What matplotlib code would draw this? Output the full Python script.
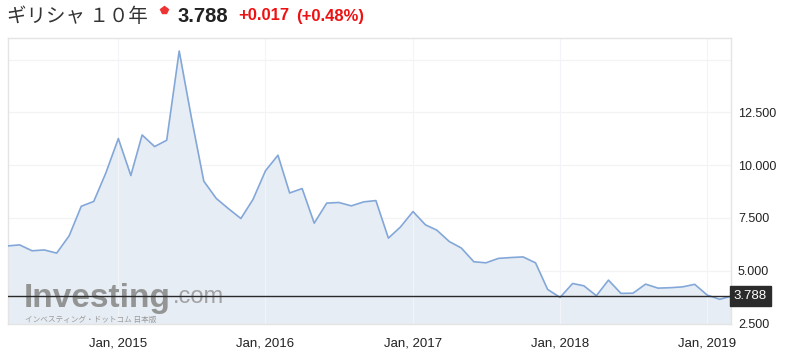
import matplotlib
matplotlib.use("Agg")
import matplotlib.pyplot as plt
import pandas as pd
from matplotlib.lines import Line2D

# ---- data ----
start_month = "2014-04-01"
yields = [6.17, 6.22, 5.94, 5.98, 5.83, 6.65, 8.05, 8.28, 9.63, 11.26,
          9.51, 11.43, 10.88, 11.18, 15.41, 12.28, 9.24, 8.42, 7.94, 7.47,
          8.37, 9.73, 10.47, 8.68, 8.89, 7.25, 8.20, 8.23, 8.07, 8.26,
          8.32, 6.54, 7.07, 7.80, 7.17, 6.92, 6.38, 6.07, 5.42, 5.37,
          5.58, 5.62, 5.65, 5.37, 4.11, 3.73, 4.39, 4.28, 3.81, 4.55,
          3.92, 3.93, 4.36, 4.17, 4.19, 4.23, 4.35, 3.84, 3.64, 3.788]
xtick_dates = ["2015-01-01", "2016-01-01", "2017-01-01", "2018-01-01", "2019-01-01"]
xtick_labels = ["Jan, 2015", "Jan, 2016", "Jan, 2017", "Jan, 2018", "Jan, 2019"]
ytick_values = [2.5, 5.0, 7.5, 10.0, 12.5]
ytick_labels = ["2.500", "5.000", "7.500", "10.000", "12.500"]
ygrid_values = [5.0, 7.5, 10.0, 12.5, 15.0]
last_value = 3.788
title_name = "ギリシャ １０年"
title_price = "3.788"
title_change = "+0.017"
title_pct = "(+0.48%)"

dates = pd.date_range(start_month, periods=len(yields), freq="MS")

W, H = 786, 355
fig = plt.figure(figsize=(W / 100, H / 100), dpi=100)
ax = fig.add_axes([7.5 / W, 1 - 324 / H, (731 - 7.5) / W, (324 - 37.5) / H])

line_color = "#82a7d8"
fill_color = "#e7edf4"

ax.fill_between(dates, yields, 0, color=fill_color, zorder=1, linewidth=0)
ax.plot(dates, yields, color=line_color, lw=1.2, zorder=3)

ax.set_xlim(dates[0], dates[-1])
ax.set_ylim(2.47, 16.05)

# grid
for v in ygrid_values:
    ax.axhline(v, color="#f3f3f3", lw=0.9, zorder=0.5)
for d in xtick_dates:
    ax.axvline(pd.Timestamp(d), color="#f2f4f7", lw=0.8, zorder=2)

# current value line
ax.axhline(last_value, color="#2a2a2a", lw=1.0, zorder=4)

for s in ax.spines.values():
    s.set_color("#e4e4e4")
    s.set_linewidth(1.0)

ax.set_xticks([pd.Timestamp(d) for d in xtick_dates])
ax.set_xticklabels(xtick_labels, fontsize=9.5, color="#222222", family="Liberation Sans")
ax.tick_params(axis="x", length=0, pad=10)
ax.yaxis.tick_right()
ax.set_yticks(ytick_values)
ax.set_yticklabels(ytick_labels, fontsize=9, color="#222222", family="Liberation Sans")
ax.tick_params(axis="y", length=0, pad=5)

# value box on right
ax.annotate(f"{last_value:.3f}", xy=(1.0, last_value), xycoords=("axes fraction", "data"),
            xytext=(2, 0), textcoords="offset points", ha="left", va="center",
            fontsize=9.5, color="white", family="Liberation Sans",
            bbox=dict(boxstyle="square,pad=0.3", fc="#2b2b2b", ec="#2b2b2b"),
            zorder=6, annotation_clip=False)

# watermark
wm = ax.text(0.023, 0.06, "Investing", transform=ax.transAxes, fontsize=24,
             fontweight="bold", color="#8a8a8a", family="Liberation Sans",
             ha="left", va="baseline", zorder=2.5, alpha=0.9)
ax.annotate(".com", xy=(1.0, 0.0), xycoords=wm, xytext=(1, 4.5),
            textcoords="offset points", fontsize=17, color="#9a9a9a",
            family="Liberation Sans", ha="left", va="bottom", zorder=2.5, alpha=0.9)
ax.text(0.024, 0.006, "インベスティング・ドットコム 日本版", transform=ax.transAxes,
        fontsize=5.5, color="#9a9a9a", family=["Noto Sans CJK JP", "DejaVu Sans"],
        ha="left", va="baseline", zorder=2.5)

# title
fig.text(7 / W, 1 - 17 / H, title_name, fontsize=14, color="#333333",
         family=["Noto Sans CJK JP", "DejaVu Sans"], ha="left", va="center")
fig.add_artist(Line2D([163.5 / W], [1 - 9.5 / H], marker="p", markersize=6,
                      color="#ee3333", transform=fig.transFigure))
fig.text(177 / W, 1 - 16 / H, title_price, fontsize=14.5, fontweight="bold",
         color="#222222", family="Liberation Sans", ha="left", va="center")
fig.text(238 / W, 1 - 16 / H, title_change, fontsize=12, fontweight="bold",
         color="#ee1111", family="Liberation Sans", ha="left", va="center")
fig.text(296 / W, 1 - 16 / H, title_pct, fontsize=12, fontweight="bold",
         color="#ee1111", family="Liberation Sans", ha="left", va="center")

fig.savefig("out.png", dpi=100)
